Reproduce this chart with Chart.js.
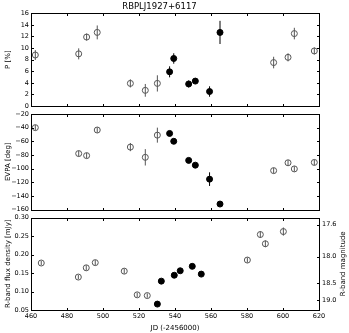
<!DOCTYPE html>
<html>
<head>
<meta charset="utf-8">
<script src="https://cdn.jsdelivr.net/npm/chart.js@4.4.0/dist/chart.umd.min.js"></script>
<style>
  html, body { margin: 0; padding: 0; background: #fff; }
  #wrap { position: relative; width: 349px; height: 333px; }
  #wrap canvas { position: absolute; left: 0; top: 0; }
</style>
</head>
<body>
<div id="wrap">
  <canvas id="pol-chart" width="349" height="333"></canvas>
  <canvas id="evpa-chart" width="349" height="333"></canvas>
  <canvas id="flux-chart" width="349" height="333"></canvas>
</div>
<script>
// optical polarization, open = outside the flare, filled = during the flare
const polOpenJD = [462.4, 486.5, 490.9, 496.8, 515.2, 523.5, 530.2, 594.8, 602.8, 606.3, 617.4];
const polOpenP = [8.8, 9.0, 11.9, 12.7, 3.9, 2.7, 3.9, 7.5, 8.4, 12.5, 9.5];
const polOpenPErr = [0.85, 0.95, 0.6, 1.2, 0.7, 1.1, 1.4, 1.0, 0.7, 1.0, 0.6];
const polOpenEVPA = [-40, -78, -81, -43.5, -68.5, -83.5, -51, -103, -91.5, -100.5, -91];
const polOpenEVPAErr = [4, 4, 4, 4, 6, 12, 11, 4, 4, 4, 4];

const polFillJD = [537.0, 539.3, 547.6, 551.3, 559.2, 565.0];
const polFillP = [5.9, 8.2, 3.8, 4.3, 2.5, 12.7];
const polFillPErr = [0.95, 0.9, 0.6, 0.5, 0.9, 2.0];
const polFillEVPA = [-48.5, -60, -88, -95, -115.5, -152];
const polFillEVPAErr = [3, 3, 3, 3, 10, 3];

// R-band photometry
const fluxOpenJD = [465.7, 486.3, 490.7, 495.7, 511.8, 519.0, 524.6, 580.2, 587.4, 590.2, 600.2];
const fluxOpen = [0.177, 0.139, 0.164, 0.178, 0.155, 0.091, 0.089, 0.185, 0.254, 0.229, 0.262];
const fluxOpenErr = [0.006, 0.006, 0.007, 0.007, 0.007, 0.006, 0.006, 0.007, 0.009, 0.009, 0.011];
const fluxFillJD = [530.2, 532.4, 539.6, 542.9, 549.6, 554.6];
const fluxFill = [0.066, 0.128, 0.144, 0.156, 0.168, 0.147];
const fluxFillErr = [0.004, 0.004, 0.004, 0.004, 0.004, 0.004];

const magTicks = [17.6, 18.0, 18.5, 19.0];
const zeroPointMJy = 3.08e6;

const OPEN_COLOR = '#555';
const TICK_FONT = { family: 'DejaVu Sans', size: 6.5 };
const LABEL_FONT = { family: 'DejaVu Sans', size: 7 };
const NO_GRID = { display: false, drawTicks: false, tickLength: 0 };

Chart.defaults.font.family = 'DejaVu Sans';
Chart.defaults.color = '#000';

function magToFlux(m) {
  return zeroPointMJy * Math.pow(10, -m / 2.5);
}

function toPoints(xs, ys) {
  return xs.map((x, i) => ({ x: x, y: ys[i] }));
}

function minus(str) {
  return String(str).replace('-', '\u2212');
}

// vertical error bars, drawn under the markers
const errorBars = {
  id: 'errorBars',
  beforeDatasetsDraw(chart) {
    const ctx = chart.ctx;
    chart.data.datasets.forEach((ds, i) => {
      if (!ds.yErr) return;
      const meta = chart.getDatasetMeta(i);
      const yScale = chart.scales[meta.yAxisID];
      ctx.save();
      ctx.strokeStyle = ds.borderColor;
      ctx.lineWidth = 1;
      meta.data.forEach((pt, j) => {
        const v = ds.data[j].y;
        const e = ds.yErr[j];
        ctx.beginPath();
        ctx.moveTo(pt.x, yScale.getPixelForValue(v - e));
        ctx.lineTo(pt.x, yScale.getPixelForValue(v + e));
        ctx.stroke();
      });
      ctx.restore();
    });
  }
};

// matplotlib style box with inward ticks
const mplFrame = {
  id: 'mplFrame',
  afterDatasetsDraw(chart) {
    const ctx = chart.ctx;
    const a = chart.chartArea;
    const sc = chart.scales;
    const len = 2.5;
    const L = Math.round(a.left) + 0.5, R = Math.round(a.right) + 0.5;
    const T = Math.round(a.top) + 0.5, B = Math.round(a.bottom) + 0.5;
    ctx.save();
    ctx.strokeStyle = '#000';
    ctx.lineWidth = 1;
    ctx.beginPath();
    sc.x.ticks.forEach(t => {
      const px = Math.round(sc.x.getPixelForValue(t.value)) + 0.5;
      ctx.moveTo(px, B); ctx.lineTo(px, B - len);
      ctx.moveTo(px, T); ctx.lineTo(px, T + len);
    });
    sc.y.ticks.forEach(t => {
      const py = Math.round(sc.y.getPixelForValue(t.value)) + 0.5;
      ctx.moveTo(L, py); ctx.lineTo(L + len, py);
      if (!sc.y2) { ctx.moveTo(R, py); ctx.lineTo(R - len, py); }
    });
    if (sc.y2) {
      sc.y2.ticks.forEach(t => {
        const py = Math.round(sc.y2.getPixelForValue(t.value)) + 0.5;
        ctx.moveTo(R, py); ctx.lineTo(R - len, py);
      });
    }
    ctx.stroke();
    ctx.strokeRect(L, T, R - L, B - T);
    ctx.restore();
  }
};

// right hand label, reading bottom to top like matplotlib
const rightLabel = {
  id: 'rightLabel',
  afterDraw(chart) {
    const text = chart.options.rightLabelText;
    if (!text) return;
    const a = chart.chartArea;
    const ctx = chart.ctx;
    ctx.save();
    ctx.translate(342.7, (a.top + a.bottom) / 2);
    ctx.rotate(-Math.PI / 2);
    ctx.font = LABEL_FONT.size + 'px "DejaVu Sans"';
    ctx.fillStyle = '#000';
    ctx.textAlign = 'center';
    ctx.textBaseline = 'middle';
    ctx.fillText(text, 0, 0);
    ctx.restore();
  }
};

function openSet(xs, ys, errs, axis) {
  return {
    data: toPoints(xs, ys),
    yErr: errs,
    yAxisID: axis || 'y',
    pointRadius: 3,
    pointBorderWidth: 1,
    borderColor: OPEN_COLOR,
    pointBorderColor: OPEN_COLOR,
    pointBackgroundColor: 'rgba(0,0,0,0)',
    showLine: false
  };
}

function fillSet(xs, ys, errs, axis) {
  return {
    data: toPoints(xs, ys),
    yErr: errs,
    yAxisID: axis || 'y',
    pointRadius: 3,
    pointBorderWidth: 1,
    borderColor: '#000',
    pointBorderColor: '#000',
    pointBackgroundColor: '#000',
    showLine: false
  };
}

function xScale(showLabels) {
  return {
    type: 'linear',
    min: 460,
    max: 620,
    ticks: {
      display: showLabels,
      stepSize: 20,
      font: TICK_FONT,
      padding: 2,
      maxRotation: 0
    },
    grid: NO_GRID,
    border: { display: false },
    title: {
      display: showLabels,
      text: 'JD (-2456000)',
      font: LABEL_FONT,
      padding: { top: 0, bottom: 1 }
    },
    afterFit: s => { s.height = showLabels ? 23 : 0; }
  };
}

function yScale(min, max, step, label, fmt) {
  return {
    type: 'linear',
    min: min,
    max: max,
    ticks: {
      stepSize: step,
      font: TICK_FONT,
      padding: 2,
      callback: v => minus(fmt(v))
    },
    grid: NO_GRID,
    border: { display: false },
    title: {
      display: true,
      text: label,
      font: LABEL_FONT,
      padding: { top: 3.8, bottom: 0 }
    },
    afterFit: s => { s.width = 31; }
  };
}

function baseOptions(padding) {
  return {
    responsive: false,
    animation: false,
    layout: { padding: padding },
    plugins: {
      legend: { display: false },
      tooltip: { enabled: false },
      title: { display: false }
    }
  };
}

// P [%]
const polOptions = baseOptions({ top: 0, left: 0, right: 30, bottom: 227 });
polOptions.plugins.title = {
  display: true,
  text: 'RBPLJ1927+6117',
  color: '#000',
  font: { family: 'DejaVu Sans', size: 8.5, weight: 'normal' },
  padding: { top: 1.6, bottom: 1.5 }
};
polOptions.scales = {
  x: xScale(false),
  y: yScale(0, 16, 2, 'P [%]', v => v.toFixed(0))
};
new Chart(document.getElementById('pol-chart'), {
  type: 'scatter',
  data: {
    datasets: [
      openSet(polOpenJD, polOpenP, polOpenPErr),
      fillSet(polFillJD, polFillP, polFillPErr)
    ]
  },
  options: polOptions,
  plugins: [errorBars, mplFrame]
});

// EVPA [deg]
const evpaOptions = baseOptions({ top: 114, left: 0, right: 30, bottom: 123.5 });
evpaOptions.scales = {
  x: xScale(false),
  y: yScale(-160, -20, 20, 'EVPA [deg]', v => v.toFixed(0))
};
new Chart(document.getElementById('evpa-chart'), {
  type: 'scatter',
  data: {
    datasets: [
      openSet(polOpenJD, polOpenEVPA, polOpenEVPAErr),
      fillSet(polFillJD, polFillEVPA, polFillEVPAErr)
    ]
  },
  options: evpaOptions,
  plugins: [errorBars, mplFrame]
});

// R-band flux density with magnitude axis on the right
const fluxOptions = baseOptions({ top: 217.5, left: 0, right: 0, bottom: 0 });
fluxOptions.rightLabelText = 'R-band magnitude';
fluxOptions.scales = {
  x: xScale(true),
  y: yScale(0.05, 0.30, 0.05, 'R-band flux density [mJy]', v => v.toFixed(2)),
  y2: {
    type: 'linear',
    position: 'right',
    min: 0.05,
    max: 0.30,
    afterBuildTicks: s => { s.ticks = magTicks.map(m => ({ value: magToFlux(m) })); },
    ticks: {
      autoSkip: false,
      font: TICK_FONT,
      padding: 3,
      callback: (v, i) => magTicks[i].toFixed(1)
    },
    grid: NO_GRID,
    border: { display: false },
    afterFit: s => { s.width = 30; }
  }
};
new Chart(document.getElementById('flux-chart'), {
  type: 'scatter',
  data: {
    datasets: [
      openSet(fluxOpenJD, fluxOpen, fluxOpenErr),
      fillSet(fluxFillJD, fluxFill, fluxFillErr)
    ]
  },
  options: fluxOptions,
  plugins: [errorBars, mplFrame, rightLabel]
});
</script>
</body>
</html>
